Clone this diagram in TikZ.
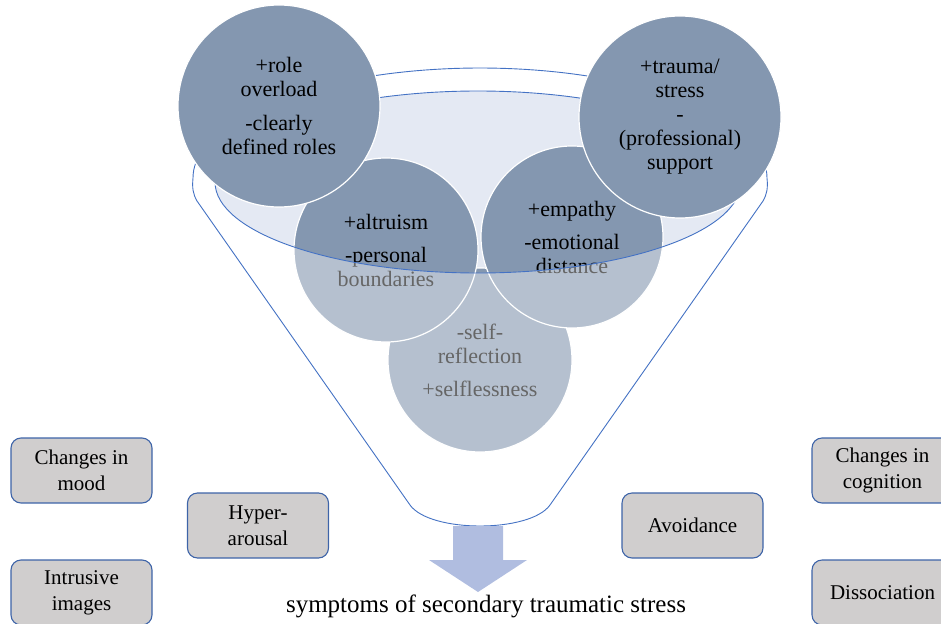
\documentclass[tikz,border=0pt]{standalone}
\usepackage{fontspec}
\setmainfont{Liberation Serif}
\definecolor{circdark}{HTML}{8497B0}
\definecolor{mouthfill}{HTML}{E4E9F3}
\definecolor{funnelline}{HTML}{4472C4}
\definecolor{boxfill}{HTML}{D0CECE}
\definecolor{boxline}{HTML}{3E64A8}
\definecolor{arrowfill}{HTML}{B0BDE0}
% outline of the funnel: top rim arc, sides and spout
\newcommand\funneloutline{%
  plot[domain=180:360, samples=90] ({480+287*cos(\x)},{178+110*sin(\x)})
  .. controls (768,188) and (767,194) .. (763,201)
  -- (550,505) .. controls (530,533) and (430,533) .. (410,505)
  -- (197,201) .. controls (193,194) and (192,188) .. (193,178) -- cycle}
\begin{document}
\begin{tikzpicture}[x=1pt,y=-1pt,
  disc/.style={circle, draw=white, line width=1.2pt, fill=circdark,
    inner sep=0pt, align=center, text=black,
    font=\rmfamily\fontsize{22}{24}\selectfont},
  symptom/.style={rectangle, rounded corners=10pt, draw=boxline,
    line width=1.1pt, fill=boxfill, minimum width=141pt,
    minimum height=65pt, inner sep=0pt, align=center,
    font=\rmfamily\fontsize{21}{26}\selectfont},
  rim/.style={draw=funnelline, line width=0.9pt}]
\useasboundingbox (0,0) rectangle (941,623);

% funnel mouth
\fill[mouthfill] (478,182) ellipse [x radius=263, y radius=91];

% factors sitting inside the funnel
\node[disc, minimum size=184pt] (self) at (480,360)
  {-self-\\reflection\\[9pt]+selflessness};
\node[disc, minimum size=184pt] (altruism) at (386,250)
  {+altruism\\[9pt]-personal\\boundaries};
\node[disc, minimum size=182pt] (empathy) at (572,237)
  {+empathy\\[9pt]-emotional\\distance};

% translucent funnel body over the factors below the mouth
\fill[white, fill opacity=0.4, even odd rule] \funneloutline
  (478,182) ellipse [x radius=263, y radius=91];
\draw[rim] \funneloutline;
\draw[rim] (478,182) ellipse [x radius=263, y radius=91];

% factors resting on the rim
\node[disc, minimum size=202pt] (role) at (279,106)
  {+role\\overload\\[10pt]-clearly\\defined roles};
\node[disc, minimum size=202pt] (trauma) at (680,117)
  {+trauma/\\stress\\-\\(professional)\\support};

% outflow arrow
\fill[arrowfill] (453,526) -- (503,526) -- (503,560) -- (527,560)
  -- (478,592) -- (429,560) -- (453,560) -- cycle;

\node[anchor=base, font=\rmfamily\fontsize{25}{28}\selectfont] (caption) at (486,612)
  {symptoms of secondary traumatic stress};

% symptom boxes
\node[symptom] (mood) at (81.5,470.5) {Changes in\\mood};
\node[symptom] (intrusive) at (81.5,592.5) {Intrusive\\images};
\node[symptom] (hyper) at (258,525.5) {Hyper-\\arousal};
\node[symptom] (avoid) at (692.5,525.5) {Avoidance};
\node[symptom] (cognition) at (882.5,470.5) {Changes in\\cognition};
\node[symptom] (dissoc) at (882.5,592.5) {Dissociation};
\end{tikzpicture}
\end{document}
